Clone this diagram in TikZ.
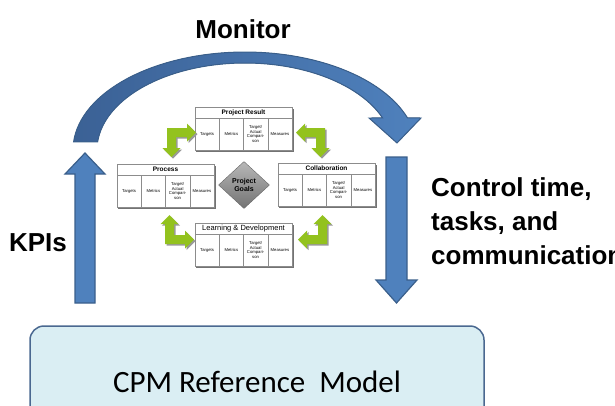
\documentclass[tikz,border=0pt]{standalone}
\usepackage{fontspec}
\setmainfont{Liberation Sans}
\newfontfamily\calibri{Carlito}
\usepackage{xcolor}
\usetikzlibrary{shapes.geometric}

\definecolor{kpiblue}{HTML}{4F81BD}
\definecolor{kpiedge}{HTML}{3A5F8B}
\definecolor{arcdark}{HTML}{3B6195}
\definecolor{modelfill}{HTML}{DAEEF3}
\definecolor{modeledge}{HTML}{4A6890}
\definecolor{limegreen}{HTML}{93C21E}
\definecolor{tabgray}{HTML}{8C8C8C}

% bent double arrow between two tables
\tikzset{
  pics/bentarrow/.style={code={
    \path[pic actions] (0,0) -- (20,0) -- (20,-4.5) -- (29,4.5) -- (20,13.5) -- (20,9)
      -- (9,9) -- (9,20) -- (13.5,20) -- (4.5,29) -- (-4.5,20) -- (0,20) -- cycle;
  }}
}

% one goal table: name, position, title
\newcommand{\goaltable}[3]{%
  \begin{scope}[shift={#2}]
    \fill[black!55] (1,1.5) rectangle (98.5,45);
    \node[tabbox] (#1) at (0,0) {};
    \node[tabtitle] (#1-title) at (48.5,5.5) {#3};
    \draw[tabline] (0,11) -- (97,11);
    \draw[tabline] (24.25,11) -- (24.25,43) (48.5,11) -- (48.5,43) (72.75,11) -- (72.75,43);
    \node[tabcell] (#1-targets) at (12.1,27) {Targets};
    \node[tabcell] (#1-metrics) at (36.4,27) {Metrics};
    \node[tabcell] (#1-compare) at (60.6,27) {Target/\\Actual\\Compari-\\son};
    \node[tabcell] (#1-measures) at (84.9,27) {Measures};
  \end{scope}}

\begin{document}
\begin{tikzpicture}[x=1pt, y=-1pt,
    bigarrow/.style={fill=kpiblue, draw=kpiedge, line width=1.2pt},
    bigtext/.style={font=\bfseries\fontsize{26}{34}\selectfont, inner sep=0pt},
    tabbox/.style={draw=tabgray, fill=white, anchor=north west, minimum width=97pt,
      minimum height=43pt, inner sep=0pt, line width=0.5pt},
    tabline/.style={draw=tabgray, line width=0.5pt},
    tabtitle/.style={font=\bfseries\fontsize{6.5}{7}\selectfont, inner sep=0pt},
    tabcell/.style={font=\fontsize{4.2}{4.6}\selectfont, align=center, inner sep=0pt},
    goalshape/.style={diamond, draw=black!60, top color=black!28, bottom color=black!55,
      minimum width=51pt, minimum height=47pt, inner sep=0pt, align=center,
      font=\bfseries\fontsize{7}{7.5}\selectfont},
    modelbox/.style={rounded corners=14pt, fill=modelfill, draw=modeledge, line width=1.5pt,
      minimum width=454pt, minimum height=112pt, font=\calibri\fontsize{31}{36}\selectfont}]
  \useasboundingbox (0,0) rectangle (615,405);
  \clip (0,0) rectangle (615,405);

  % Monitor arc
  \filldraw[left color=arcdark, right color=kpiblue, draw=kpiedge, line width=1pt]
    plot[domain=175.3:19.1, samples=60] ({245+172*cos(\x)}, {150-98*sin(\x)})
    -- (421,118) -- (397,143) -- (369,118)
    -- plot[domain=21.6:174.7, samples=60] ({245+148*cos(\x)}, {150-87*sin(\x)})
    -- cycle;
  \node[bigtext] (monitor) at (243,29) {Monitor};

  % KPIs arrow
  \filldraw[bigarrow] (75,303) -- (75,174) -- (65,174) -- (85,153) -- (105,174) -- (95,174)
    -- (95,303) -- cycle;
  \node[bigtext] (kpis) at (38,243) {KPIs};

  % control arrow
  \filldraw[bigarrow] (386,157) -- (407,157) -- (407,280) -- (417,280) -- (396.5,303)
    -- (376,280) -- (386,280) -- cycle;
  \node[bigtext, anchor=north west, align=left] (control) at (431,177)
    {Control time,\\tasks, and\\communication};

  % reference model
  \node[modelbox] (model) at (257,382) {CPM Reference\ \ Model};

  % goal tables
  \goaltable{result}{(195,107)}{Project Result}
  \goaltable{process}{(117,164)}{Process}
  \goaltable{collab}{(278,163)}{Collaboration}
  \goaltable{learning}{(195,223)}{\mdseries\fontsize{7.5}{8}\selectfont Learning \& Development}
  \node[goalshape] (goals) at (244,185) {Project\\Goals};

  % green arrows
  \pic[fill=black!40] at (168.5,129.5) {bentarrow};
  \pic[fill=limegreen] at (167,128) {bentarrow};
  \pic[fill=black!40, xscale=-1] at (326.5,129.5) {bentarrow};
  \pic[fill=limegreen, xscale=-1] at (325,128) {bentarrow};
  \pic[fill=black!40, yscale=-1] at (166.5,245.5) {bentarrow};
  \pic[fill=limegreen, yscale=-1] at (165,244) {bentarrow};
  \pic[fill=black!40, xscale=-1, yscale=-1] at (328.5,245.5) {bentarrow};
  \pic[fill=limegreen, xscale=-1, yscale=-1] at (327,244) {bentarrow};
\end{tikzpicture}
\end{document}
